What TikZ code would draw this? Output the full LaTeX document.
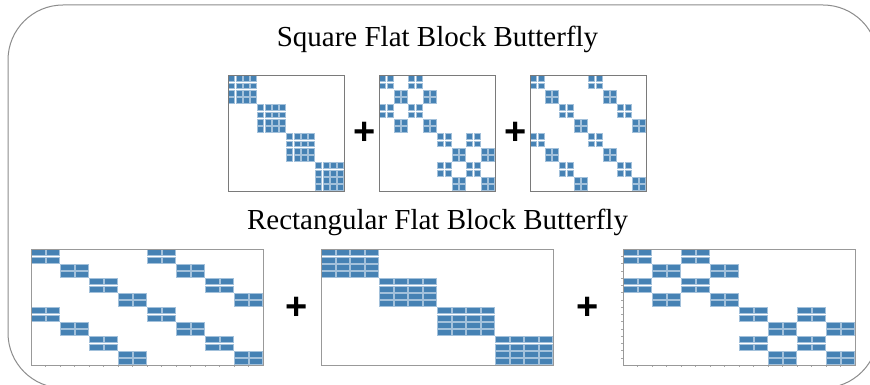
\documentclass[tikz,border=0pt]{standalone}
\usepackage{fontspec}
\setmainfont{Liberation Serif}
\newfontfamily\plusfont{Liberation Sans}
\definecolor{cellblue}{HTML}{4682B4}
\definecolor{celledge}{HTML}{A3C1DB}
\definecolor{framegray}{HTML}{7A7A7A}
\definecolor{outergray}{HTML}{8C8C8C}
\tikzset{
  cellbox/.style={fill=cellblue,draw=celledge,line width=0.6pt},
  matframe/.style={draw=framegray,line width=0.9pt},
  tickmark/.style={draw=gray!70,line width=0.5pt},
  titletext/.style={font=\fontsize{29}{34}\selectfont,anchor=base,inner sep=0pt},
  plustext/.style={font=\plusfont\bfseries\fontsize{38}{40}\selectfont,inner sep=0pt}
}
% #1 x0, #2 y0, #3 cell w, #4 cell h, #5 row start, #6 col start, #7 size
\newcommand\cellblock[7]{%
  \foreach \ii in {1,...,#7}{\foreach \jj in {1,...,#7}{%
    \path[cellbox] ({#1+(#6+\jj-1)*#3+0.7},{#2+(#5+\ii-1)*#4+0.7}) rectangle ({#1+(#6+\jj)*#3-0.7},{#2+(#5+\ii)*#4-0.7});
  }}}
% block diagonal 4x4 blocks
\newcommand\blockdiag[3]{%
  \foreach \rr in {0,4,8,12}{\cellblock{#1}{#2}{#3}{7.25}{\rr}{\rr}{4}}}
% butterfly stride 4 within 8
\newcommand\bflyfour[3]{%
  \foreach \rr/\cc in {0/0,0/4,2/2,2/6,4/0,4/4,6/2,6/6,8/8,8/12,10/10,10/14,12/8,12/12,14/10,14/14}{\cellblock{#1}{#2}{#3}{7.25}{\rr}{\cc}{2}}}
% butterfly stride 8
\newcommand\bflyeight[3]{%
  \foreach \rr/\cc in {0/0,0/8,2/2,2/10,4/4,4/12,6/6,6/14,8/0,8/8,10/2,10/10,12/4,12/12,14/6,14/14}{\cellblock{#1}{#2}{#3}{7.25}{\rr}{\cc}{2}}}
\begin{document}
\begin{tikzpicture}[x=1pt,y=-1pt]
\useasboundingbox (0,0) rectangle (870,385);
\fill[white] (0,0) rectangle (870,385);
\draw[draw=outergray,line width=1pt,rounded corners=55pt] (8,5) rectangle (878,388);

\node[titletext] (t1) at (437.5,47) {Square Flat Block Butterfly};
\node[titletext] (t2) at (437.5,229) {Rectangular Flat Block Butterfly};

% square matrices
\blockdiag{228}{75}{7.25}
\bflyfour{379}{75}{7.25}
\bflyeight{530}{75}{7.25}
\node[matframe,minimum width=116pt,minimum height=116pt,inner sep=0pt,anchor=north west] (m1) at (228,75) {};
\node[matframe,minimum width=116pt,minimum height=116pt,inner sep=0pt,anchor=north west] (m2) at (379,75) {};
\node[matframe,minimum width=116pt,minimum height=116pt,inner sep=0pt,anchor=north west] (m3) at (530,75) {};

% rectangular matrices
\bflyeight{31}{249}{14.5}
\blockdiag{321}{249}{14.5}
\bflyfour{623}{249}{14.5}
\foreach \k in {1,...,15}{
  \draw[tickmark] ({31+\k*14.5},365) -- ++(0,2);
  \draw[tickmark] ({623+\k*14.5},365) -- ++(0,2);
}
\foreach \k in {1,...,15}{
  \draw[tickmark] (623,{249+\k*7.25}) -- ++(-2,0);
}
\node[matframe,draw=gray!80,minimum width=232pt,minimum height=116pt,inner sep=0pt,anchor=north west] (m4) at (31,249) {};
\node[matframe,draw=gray!80,minimum width=232pt,minimum height=116pt,inner sep=0pt,anchor=north west] (m5) at (321,249) {};
\node[matframe,draw=gray!80,minimum width=232pt,minimum height=116pt,inner sep=0pt,anchor=north west] (m6) at (623,249) {};

% plus signs
\node[plustext] (p1) at (365,133) {+};
\node[plustext] (p2) at (516,133) {+};
\node[plustext] (p3) at (297,308) {+};
\node[plustext] (p4) at (588,308) {+};
\end{tikzpicture}
\end{document}
